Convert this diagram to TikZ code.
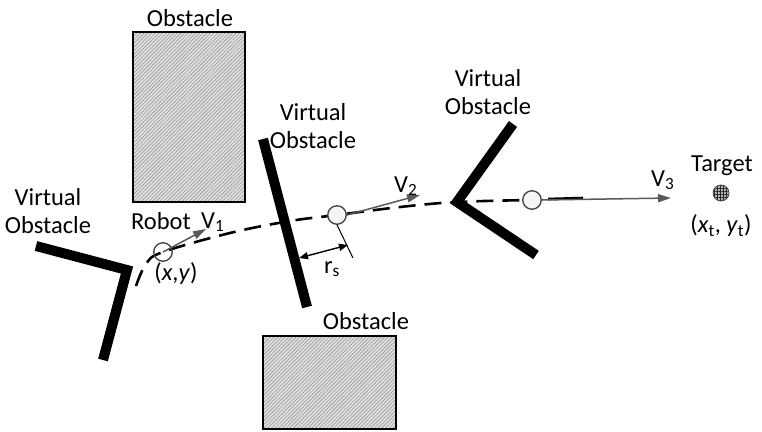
\documentclass[tikz,border=0pt]{standalone}
\usepackage{fontspec}
\setmainfont{Carlito}
\usetikzlibrary{patterns.meta,arrows.meta}
\tikzset{
  obst/.style={draw=black, line width=2.5pt, preaction={fill=gray!22},
    pattern={Lines[angle=45,distance=2.6pt,line width=0.8pt]}, pattern color=gray!75},
  wall/.style={line width=10pt, line join=miter, line cap=butt},
  lbl/.style={inner sep=0pt, align=center, font=\fontsize{24.5}{28}\selectfont},
  robot/.style={circle, draw=black!75, line width=1.3pt, minimum size=18.5pt, inner sep=0pt},
  vel/.style={draw=black!65, line width=1.5pt, -{Triangle[length=13pt,width=8pt]}},
  traj/.style={line width=2.6pt, dash pattern=on 17pt off 9pt},
}
\begin{document}
\begin{tikzpicture}[x=1pt,y=-1pt]
\useasboundingbox (0,0) rectangle (762,431);

% obstacles
\draw[obst] (133,32) rectangle (245,202);
\node[lbl] (obsTop) at (190,18) {Obstacle};
\draw[obst] (263,336) rectangle (396,429);
\node[lbl] (obsBot) at (366,321) {Obstacle};

% virtual obstacles (walls)
\draw[wall] (36,246) -- (127,270) -- (103,360);
\node[lbl] (vLeft) at (48,211) {Virtual\\Obstacle};
\draw[wall] (263,139) -- (307,307);
\node[lbl] (vMid) at (313,126) {Virtual\\Obstacle};
\draw[wall] (513,124) -- (457,202) -- (536,255);
\node[lbl] (vRight) at (488,92) {Virtual\\Obstacle};

% trajectory
\coordinate (p0) at (136,286);
\coordinate (p1) at (146,264);
\coordinate (p2) at (163,252);
\coordinate (p3) at (230,233);
\coordinate (p4) at (290,221);
\coordinate (p5) at (337,215);
\coordinate (p6) at (400,207);
\coordinate (p7) at (457,202);
\coordinate (p8) at (532,200);
\coordinate (d0) at (548,199);
\coordinate (d1) at (583,198);
\draw[traj] plot[smooth, tension=0.6] coordinates {(p0) (p1) (p2) (p3) (p4) (p5) (p6) (p7) (p8)};
\draw[line width=2.6pt] (d0) -- (d1);

% robot positions
\node[robot] (r1) at (p2) {};
\node[robot, fill=gray!8] (r2) at (p5) {};
\node[robot, fill=gray!8] (r3) at (p8) {};

% velocity vectors
\coordinate (v1end) at (206,229);
\coordinate (v2end) at (420,195);
\coordinate (v3end) at (671,198);
\draw[vel] (r1.center) -- (v1end);
\draw[vel] (r2.east) -- (v2end);
\draw[vel] (r3.east) -- (v3end);
\node[lbl, anchor=base west] (v1) at (201,228) {V\textsubscript{1}};
\node[lbl, anchor=base west] (v2) at (394,192) {V\textsubscript{2}};
\node[lbl, anchor=base west] (v3) at (651,186) {V\textsubscript{3}};

\node[lbl] (robotLbl) at (161,221) {Robot};
\node[lbl] (xy) at (176,274) {(\textit{x},\textit{y})};

% safety radius
\coordinate (rsEnd) at (353,258);
\coordinate (rsWall) at (299,258);
\coordinate (rsTip) at (348,245);
\draw[line width=1pt] (r2.south) -- (rsEnd);
\draw[line width=1.4pt, {Triangle[length=9pt,width=7pt]}-{Triangle[length=9pt,width=7pt]}] (rsWall) -- (rsTip);
\node[lbl] (rs) at (332,269) {r\textsubscript{s}};

% target
\node[circle, draw=gray!60!black, line width=0.8pt, minimum size=16pt, inner sep=0pt,
  preaction={fill=gray!60}, pattern={Hatch[angle=0,distance=3pt,line width=0.6pt]}, pattern color=gray!30!black] (target) at (721,193) {};
\node[lbl] (targetLbl) at (722,166) {Target};
\node[lbl] (xtyt) at (721,226) {(\textit{x}\textsubscript{t}, \textit{y}\textsubscript{t})};
\end{tikzpicture}
\end{document}
